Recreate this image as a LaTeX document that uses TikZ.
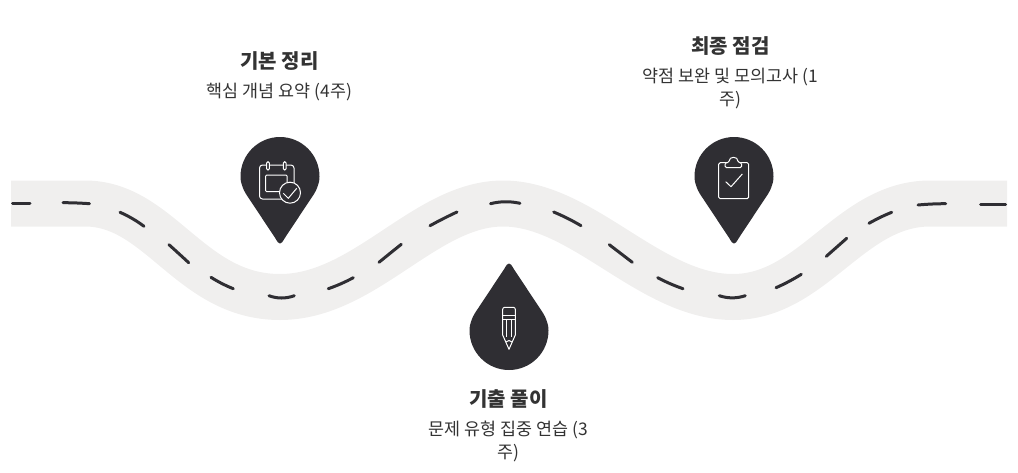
\documentclass[tikz,border=0pt]{standalone}
\usepackage{fontspec}
\setmainfont{Noto Sans CJK KR}
\usepackage{tikz}
\usetikzlibrary{calc}
\definecolor{roadgrey}{HTML}{F0EFEE}
\definecolor{pinink}{HTML}{2F2E33}
\definecolor{textink}{HTML}{333333}
\tikzset{
  road/.style={draw=roadgrey, line width=46pt},
  lane/.style={draw=pinink, line width=3pt, line cap=round},
  ttl/.style={font=\fontsize{20}{24}\selectfont\bfseries, color=textink, inner sep=0pt},
  dsc/.style={font=\fontsize{17.4}{23}\selectfont, color=textink, align=center, inner sep=0pt},
  ico/.style={draw=white, line width=1pt, line join=round},
  droppin/.pic={
    \fill[pinink] (-4.5,62) .. controls (-2.5,65.5) and (-1.5,67) .. (0,67) .. controls (1.5,67) and (2.5,65.5) .. (4.5,62)
      -- (31,22) .. controls (36,15) and (39.5,8) .. (39.5,0)
      .. controls (39.5,-21.8) and (21.8,-39.5) .. (0,-39.5)
      .. controls (-21.8,-39.5) and (-39.5,-21.8) .. (-39.5,0)
      .. controls (-39.5,8) and (-36,15) .. (-31,22) -- cycle;
  },
}
\begin{document}
\begin{tikzpicture}[x=1pt, y=-1pt]
    \useasboundingbox (0,0) rectangle (1018,472);
    \path[road] (11,203.5) -- (85,203.5) .. controls (160,203.5) and (190,297) .. (280,297)
      .. controls (365,297) and (425,203.5) .. (503,203.5)
      .. controls (583,203.5) and (650,297) .. (733,297)
      .. controls (813,297) and (850,203.5) .. (930,203.5) -- (1007,203.5);
    \foreach \ax/\ay/\cx/\cy/\bx/\by in {
      12.5/203/21/203/30/203, 63/202.7/76/202.7/89.5/203.7, 120/212.3/133/218/144/226.3,
      169/244.7/179/253.7/188.7/262.7, 211/277.3/221.5/284/233.3/288.7, 269/295.7/281.5/300.3/294.3/295.7,
      328.3/288.7/341.3/284.2/353.3/277.7, 379/262.3/390/253.3/401.3/244.3, 430/225.7/444/218/457/212,
      490.5/203.7/505/200/520/203.3, 553.7/212/568/218/581/225.7, 609.3/244.7/620.8/253.5/632.3/262.3,
      657.7/277.7/670/284.2/683/288.7, 719.3/295.7/732.3/300/745.3/295.7, 776/287.7/789/282/801.3/274.3,
      826.3/256.3/836.5/247.3/846.7/238.3, 869/223.3/880/217/891.7/212.3, 918/205/932/203.7/945.7/203.7,
      980.5/204/993/204/1005.5/204}
    {
      \draw[lane] (\ax,\ay) .. controls ($(\ax,\ay)!.667!(\cx,\cy)$) and ($(\bx,\by)!.667!(\cx,\cy)$) .. (\bx,\by);
    }
    \pic at (280,176.5) {droppin};
    \pic at (734,176.5) {droppin};
    \pic[yscale=-1] at (509,330.5) {droppin};
    \foreach \nm/\x/\yt/\yd/\ti/\wh in {
      basic/279.5/61/92/{기본 정리}/{핵심 개념 요약 (4주)},
      final/730.5/46/89/{최종 점검}/{약점 보완 및 모의고사 (1\\주)},
      drill/508.5/399/441/{기출 풀이}/{문제 유형 집중 연습 (3\\주)}}
    {
      \node[ttl] (\nm ttl) at (\x,\yt) {\ti};
      \node[dsc] (\nm dsc) at (\x,\yd) {\wh};
    }
    \draw[ico, rounded corners=3pt] (259.5,165) rectangle (294,199);
    \draw[ico, rounded corners=1pt] (265.7,175) rectangle (287,191.7);
    \foreach \r in {268,284.7} \draw[ico, fill=pinink, rounded corners=1.2pt] (\r-1.3,161.7) rectangle (\r+1.3,170);
    \draw[ico, fill=pinink] (290,192.7) circle[radius=10.5];
    \draw[ico] (283.3,193.3) -- (288.3,198.3) -- (296.7,188.3);
    \draw[ico, rounded corners=1.5pt] (718.7,162.7) rectangle (748.7,198.7);
    \draw[ico, fill=pinink, rounded corners=1.5pt] (725,167.7) -- (725,162.7) -- (729,162.7) .. controls (729,156) and (738,156) .. (738,162.7) -- (741.7,162.7) -- (741.7,167.7) -- cycle;
    \draw[ico] (725.7,181.7) -- (731,186.7) -- (742.3,174);
    \draw[ico, rounded corners=2pt] (502.7,335) -- (502.7,307.3) -- (515.3,307.3) -- (515.3,335);
    \draw[ico] (502.7,335) -- (509,349.3) -- (515.3,335);
    \draw[ico] (502.7,315) -- (515.3,315) (502.7,319.3) -- (515.3,319.3);
    \draw[ico] (506,319.3) -- (506,337) (511.8,319.3) -- (511.8,337);
    \draw[ico] (506,342) -- (509,340.5) -- (512,342);
  \end{tikzpicture}
\end{document}
